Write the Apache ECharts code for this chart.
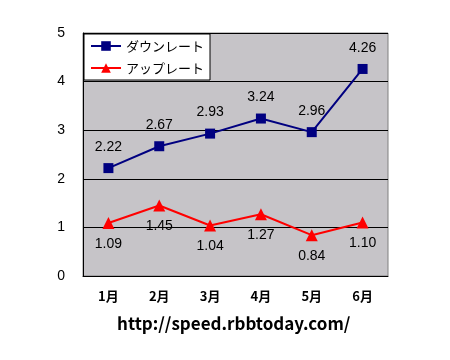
<!DOCTYPE html>
<html><head><meta charset="utf-8">
<script src="https://cdn.jsdelivr.net/npm/echarts@6/dist/echarts.min.js"></script>
<style>html,body{margin:0;padding:0;background:#fff}#c{width:450px;height:360px}</style>
</head><body><div id="c"></div>
<script>
const categories = ['1月','2月','3月','4月','5月','6月'];
const downRate = [2.22, 2.67, 2.93, 3.24, 2.96, 4.26];
const upRate = [1.09, 1.45, 1.04, 1.27, 0.84, 1.10];
const seriesNames = ['ダウンレート','アップレート'];
const yTicks = [0,1,2,3,4,5];
const footer = 'http://speed.rbbtoday.com/';

const chart = echarts.init(document.getElementById('c'), null, {renderer:'canvas'});
const numFont = {fontFamily:'Liberation Sans, Arial, sans-serif', fontSize:14, color:'#000'};
chart.setOption({
  animation:false,
  backgroundColor:'#fff',
  graphic:[{type:'text', left:117, top:315,
    style:{text:footer, fill:'#000', font:'bold 17px "Noto Sans CJK JP", sans-serif'}}],
  grid:{left:83, right:62, top:33, bottom:84, show:true, backgroundColor:'#C6C4C8', borderColor:'#808080', borderWidth:1},
  legend:{left:84, top:34, orient:'vertical', backgroundColor:'#fff', borderColor:'#000', borderWidth:1,
    padding:[5,6,5,6], itemGap:8, itemWidth:30, itemHeight:12,
    textStyle:{fontFamily:'Noto Sans CJK JP', fontSize:13, lineHeight:14, color:'#000'},
    data:seriesNames},
  xAxis:{type:'category', data:categories, boundaryGap:true,
    axisLine:{lineStyle:{color:'#000', width:1}},
    axisTick:{inside:true, length:5, lineStyle:{color:'#000'}},
    axisLabel:{margin:14, fontFamily:'Noto Sans CJK JP', fontSize:13, fontWeight:'bold', color:'#000'}},
  yAxis:{type:'value', min:yTicks[0], max:yTicks[yTicks.length-1], interval:1,
    axisLine:{show:true, lineStyle:{color:'#000'}},
    axisTick:{show:false},
    splitLine:{lineStyle:{color:'#000', width:1}},
    axisLabel:{margin:18, fontFamily:'Liberation Sans, Arial, sans-serif', fontSize:14, color:'#000'}},
  series:[
    {name:seriesNames[0], type:'line', data:downRate, symbol:'rect', symbolSize:10,
      lineStyle:{color:'#000080', width:2}, itemStyle:{color:'#000080'},
      label:{show:true, position:'top', distance:9, formatter:p=>p.value.toFixed(2), ...numFont}},
    {name:seriesNames[1], type:'line', data:upRate, symbol:'triangle', symbolSize:12,
      lineStyle:{color:'#FF0000', width:2}, itemStyle:{color:'#FF0000'},
      label:{show:true, position:'bottom', distance:8, formatter:p=>p.value.toFixed(2), ...numFont}}
  ]
});
</script></body></html>
